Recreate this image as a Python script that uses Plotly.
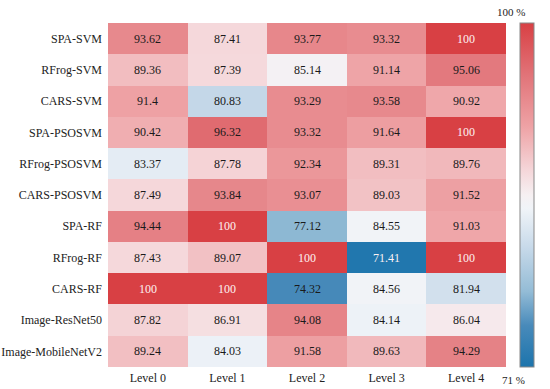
import plotly.graph_objects as go

models = ["SPA-SVM", "RFrog-SVM", "CARS-SVM", "SPA-PSOSVM", "RFrog-PSOSVM",
          "CARS-PSOSVM", "SPA-RF", "RFrog-RF", "CARS-RF", "Image-ResNet50",
          "Image-MobileNetV2"]
levels = ["Level 0", "Level 1", "Level 2", "Level 3", "Level 4"]
values = [
    [93.62, 87.41, 93.77, 93.32, 100],
    [89.36, 87.39, 85.14, 91.14, 95.06],
    [91.4, 80.83, 93.29, 93.58, 90.92],
    [90.42, 96.32, 93.32, 91.64, 100],
    [83.37, 87.78, 92.34, 89.31, 89.76],
    [87.49, 93.84, 93.07, 89.03, 91.52],
    [94.44, 100, 77.12, 84.55, 91.03],
    [87.43, 89.07, 100, 71.41, 100],
    [100, 100, 74.32, 84.56, 81.94],
    [87.82, 86.91, 94.08, 84.14, 86.04],
    [89.24, 84.03, 91.58, 89.63, 94.29],
]
zmin, zmax = 71, 100

colorscale = [
    [0.0, "rgb(28,116,172)"],
    [0.12, "rgb(72,138,186)"],
    [0.22, "rgb(148,188,214)"],
    [0.35, "rgb(200,218,234)"],
    [0.46, "rgb(240,244,248)"],
    [0.50, "rgb(246,240,242)"],
    [0.57, "rgb(245,215,218)"],
    [0.70, "rgb(238,162,165)"],
    [0.85, "rgb(225,115,120)"],
    [1.0, "rgb(216,64,68)"],
]

FONT = "Liberation Serif"

fig = go.Figure(go.Heatmap(
    z=values, x=levels, y=models,
    zmin=zmin, zmax=zmax, colorscale=colorscale,
    xgap=0, ygap=0,
    hoverinfo="skip",
    colorbar=dict(
        x=1.035, xanchor="left", xpad=0, y=0.5, yanchor="middle",
        len=1.0, lenmode="fraction", thickness=14, ypad=0,
        outlinewidth=1, outlinecolor="#888",
        showticklabels=False, ticks="",
    ),
))

annotations = []
for i, m in enumerate(models):
    for j, lv in enumerate(levels):
        v = values[i][j]
        col = "#fdf2f2" if (v >= 99 or v <= 72) else "#1a1a1a"
        annotations.append(dict(
            x=lv, y=m, text=f"{v:g}", showarrow=False,
            font=dict(family=FONT, size=12, color=col),
        ))
annotations.append(dict(x=1.035 + 7 / 398, y=1.0, xref="paper", yref="paper",
                        text="100 %", showarrow=False, yanchor="bottom", yshift=3,
                        font=dict(family=FONT, size=11, color="#222")))
annotations.append(dict(x=1.035 + 7 / 398, y=0.0, xref="paper", yref="paper",
                        text="71 %", showarrow=False, yanchor="top", yshift=-5,
                        font=dict(family=FONT, size=11, color="#222")))

fig.update_layout(
    width=550, height=389,
    margin=dict(l=108, r=44, t=23, b=22, autoexpand=False),
    paper_bgcolor="white", plot_bgcolor="white",
    font=dict(family=FONT, size=12, color="#222"),
    annotations=annotations,
)
fig.update_xaxes(showgrid=False, zeroline=False, ticks="", showline=False,
                 ticklabelstandoff=2,
                 tickfont=dict(family=FONT, size=12, color="#222"))
fig.update_yaxes(showgrid=False, zeroline=False, ticks="", showline=False,
                 autorange="reversed", ticklabelstandoff=5,
                 tickfont=dict(family=FONT, size=12, color="#222"))

fig.write_html("out.html", config={"displayModeBar": False},
               post_script="document.body.style.margin='0px';")
